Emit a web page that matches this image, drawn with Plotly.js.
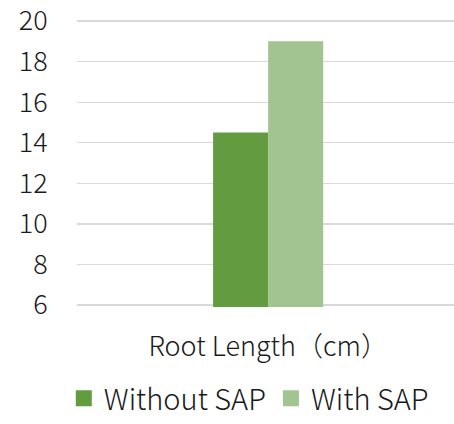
<!DOCTYPE html>
<html><head><meta charset="utf-8">
<script src="https://cdn.plot.ly/plotly-3.0.1.min.js"></script>
<style>html,body{margin:0;padding:0;background:#fff;}</style>
</head><body>
<div id="chart" style="width:454px;height:424px;"></div>
<script>
const categories = ["Root Length（cm）"];
const seriesNames = ["Without SAP", "With SAP"];
const withoutSAP = [14.5];
const withSAP = [19];
const yTicks = [6, 8, 10, 12, 14, 16, 18, 20];
const colors = ["#629B40", "#A2C490"];
const FONT = "Noto Sans CJK SC, Noto Sans, sans-serif";

const traces = [
  {type: "bar", x: categories, y: withoutSAP, name: seriesNames[0], marker: {color: colors[0]}, showlegend: false},
  {type: "bar", x: categories, y: withSAP, name: seriesNames[1], marker: {color: colors[1]}, showlegend: false},
  {type: "scatter", mode: "markers", x: categories, y: [null], name: seriesNames[0], marker: {symbol: "square", size: 16, color: colors[0]}},
  {type: "scatter", mode: "markers", x: categories, y: [null], name: seriesNames[1], marker: {symbol: "square", size: 16, color: colors[1]}}
];

const layout = {
  width: 454, height: 424,
  margin: {l: 77, r: 0, t: 19, b: 117, autoexpand: false},
  paper_bgcolor: "#fff", plot_bgcolor: "#fff",
  font: {family: FONT, size: 27, color: "#1a1a1a", weight: 300},
  barmode: "group", bargap: 0.708, bargroupgap: 0,
  xaxis: {type: "category", range: [-0.507, 0.493], showgrid: false, showline: false, zeroline: false, ticks: "outside", ticklen: 16, tickcolor: "rgba(0,0,0,0)", tickfont: {size: 27}},
  yaxis: {range: [5.9, 20.1], tickvals: yTicks, showgrid: true, gridcolor: "#d9d9d9", gridwidth: 1.3, zeroline: false, showline: false, ticks: "outside", ticklen: 23, tickcolor: "rgba(0,0,0,0)", tickfont: {size: 27}, ticklabeloverflow: "allow"},
  showlegend: true,
  legend: {orientation: "h", x: 0.548, xref: "container", xanchor: "center", yref: "container", y: -0.015, yanchor: "bottom", font: {size: 29}, itemclick: false, borderwidth: 0},
};
Plotly.newPlot("chart", traces, layout, {staticPlot: true});
</script>
</body></html>
